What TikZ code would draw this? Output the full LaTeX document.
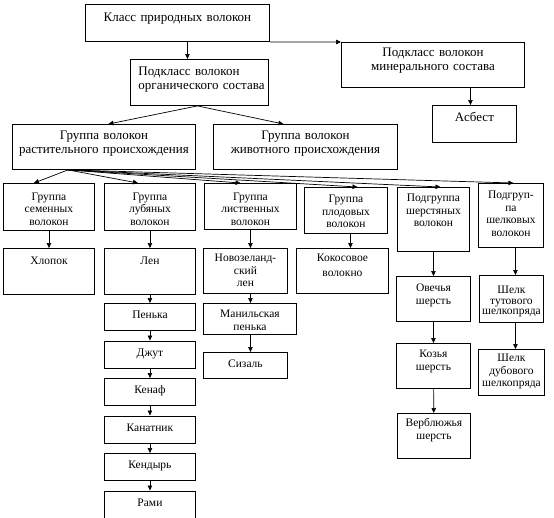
\documentclass[tikz,border=0pt]{standalone}
\usepackage{fontspec}
\setmainfont{Liberation Serif}
\usepackage{tikz}
\usetikzlibrary{arrows.meta,positioning}
\tikzset{
  fbox/.style n args={3}{draw=black,line width=0.9pt,anchor=north west,inner xsep=0pt,inner ysep=0pt,align=center,text width=#1pt,text height=#2pt,text depth=#3pt},
  big/.style={font=\rmfamily\fontsize{13}{14.5}\selectfont},
  small/.style={font=\rmfamily\fontsize{11.5}{12.5}\selectfont},
  arr/.style={-{Triangle[length=5pt,width=4.5pt]},draw=black,line width=0.7pt}
}

\begin{document}
\begin{tikzpicture}[x=1pt,y=-1pt]
  \useasboundingbox (0,0) rectangle (554,517);
  % upper levels
  \node[fbox={184}{17}{20},big] (klass) at (85,4) {Класс природных волокон};
  \node[fbox={132}{16}{30},big,inner xsep=3pt,align=left] (organic) at (130,59) {\hspace*{5pt}Подкласс волокон\\\hspace*{5pt}органического состава};
  \node[fbox={183}{14}{31},big] (mineral) at (341,42) {Подкласс волокон\\минерального состава};
  \node[fbox={84}{16}{21},big] (asbest) at (432,105) {Асбест};
  \node[fbox={183}{15}{30},big] (plant) at (12,124) {Группа волокон\\растительного происхождения};
  \node[fbox={184}{15}{30},big] (animal) at (213,124) {Группа волокон\\животного происхождения};
  % groups
  \node[fbox={91}{17}{30},small] (seed) at (3,183) {Группа\\семенных\\волокон};
  \node[fbox={91}{17}{30},small] (bast) at (104,183) {Группа\\лубяных\\волокон};
  \node[fbox={92}{17}{29},small] (leaf) at (204,183) {Группа\\лиственных\\волокон};
  \node[fbox={83}{15.5}{30.5},small] (fruit) at (304,187) {Группа\\плодовых\\волокон};
  \node[fbox={72}{14.5}{49.5},small] (wool) at (397,187) {Подгруппа\\шерстяных\\волокон};
  \node[fbox={65}{15.5}{48.5},small] (silk) at (478,183) {Подгруп-\\па\\шелковых\\волокон};
  % fibres
  \node[fbox={91}{16.5}{29.5},small] (cotton) at (3,248) {Хлопок};
  \node[fbox={91}{16.5}{29.5},small] (flax) at (104,248) {Лен};
  \node[fbox={91}{15.5}{11.5},small] (hemp) at (104,303) {Пенька};
  \node[fbox={91}{15.5}{11.5},small,below=9.6pt of hemp] (jute) {Джут};
  \node[fbox={91}{15.5}{11.5},small,below=9.6pt of jute] (kenaf) {Кенаф};
  \node[fbox={91}{15.5}{11.5},small,below=9.6pt of kenaf] (kanatnik) {Канатник};
  \node[fbox={91}{15.5}{11.5},small,below=9.6pt of kanatnik] (kendyr) {Кендырь};
  \node[fbox={91}{15.5}{11.5},small,below=9.6pt of kendyr] (rami) {Рами};
  \node[fbox={84}{13.5}{31.5},small] (nz) at (203,248) {Новозеланд-\\ский\\лен};
  \node[fbox={93}{14.5}{16.5},small] (manila) at (203,303) {Манильская\\пенька};
  \node[fbox={84}{15.5}{10.5},small] (sisal) at (203,352) {Сизаль};
  \node[fbox={92}{13.5}{31.5},small] (coconut) at (296,248) {Кокосовое\\[2.5pt]волокно};
  \node[fbox={74}{15.5}{29.5},small] (sheep) at (396,276) {Овечья\\шерсть};
  \node[fbox={74}{14.5}{30.5},small] (goat) at (396,343) {Козья\\шерсть};
  \node[fbox={73}{13.5}{31.5},small] (camel) at (397,413) {Верблюжья\\шерсть};
  \node[fbox={64}{18.5}{28.5},small] (mulberry) at (479,275) {Шелк\\[-2pt]тутового\\[-2pt]шелкопряда};
  \node[fbox={66}{12.5}{33.5},small] (oak) at (478,349) {Шелк\\дубового\\шелкопряда};

  % connectors
  \draw[arr] ([xshift=10pt]klass.south) -- ([xshift=10pt]klass.south |- organic.north);
  \draw[arr] (klass.south east) -- (mineral.north west);
  \draw[arr] ([xshift=-2pt]organic.south) -- ([xshift=4.5pt]plant.north);
  \draw[arr] ([xshift=-2pt]organic.south) -- ([xshift=-22pt]animal.north);
  \draw[arr] ([xshift=-4pt]asbest.north |- mineral.south) -- ([xshift=-4pt]asbest.north);
  \coordinate (fan) at ([xshift=-36pt]plant.south);
  \draw[arr] (fan) -- ([xshift=-15pt]seed.north);
  \draw[arr] (fan) -- ([xshift=-12pt]bast.north);
  \draw[arr] (fan) -- ([xshift=-10pt]leaf.north);
  \draw[arr] (fan) -- ([xshift=11.5pt]fruit.north);
  \draw[arr] (fan) -- ([xshift=7pt]wool.north);
  \draw[arr] (fan) -- ([xshift=2.5pt]silk.north);
  \draw[arr] (seed) -- (cotton);
  \foreach \a/\b in {bast/flax,flax/hemp,hemp/jute,jute/kenaf,kenaf/kanatnik,kanatnik/kendyr,kendyr/rami}
    \draw[arr] (\a) -- (\b);
  \draw[arr] (leaf.south) -- (leaf.south |- nz.north);
  \draw[arr] (leaf.south |- nz.south) -- (leaf.south |- manila.north);
  \draw[arr] (leaf.south |- manila.south) -- (leaf.south |- sisal.north);
  \draw[arr] ([xshift=4.5pt]fruit.south) -- ([xshift=4.5pt]fruit.south |- coconut.north);
  \foreach \a/\b in {wool/sheep,sheep/goat,goat/camel}
    \draw[arr] (\a) -- (\b);
  \draw[arr] ([xshift=4.5pt]silk.south) -- ([xshift=4.5pt]silk.south |- mulberry.north);
  \draw[arr] ([xshift=4.5pt]silk.south |- mulberry.south) -- ([xshift=4.5pt]silk.south |- oak.north);
\end{tikzpicture}
\end{document}
